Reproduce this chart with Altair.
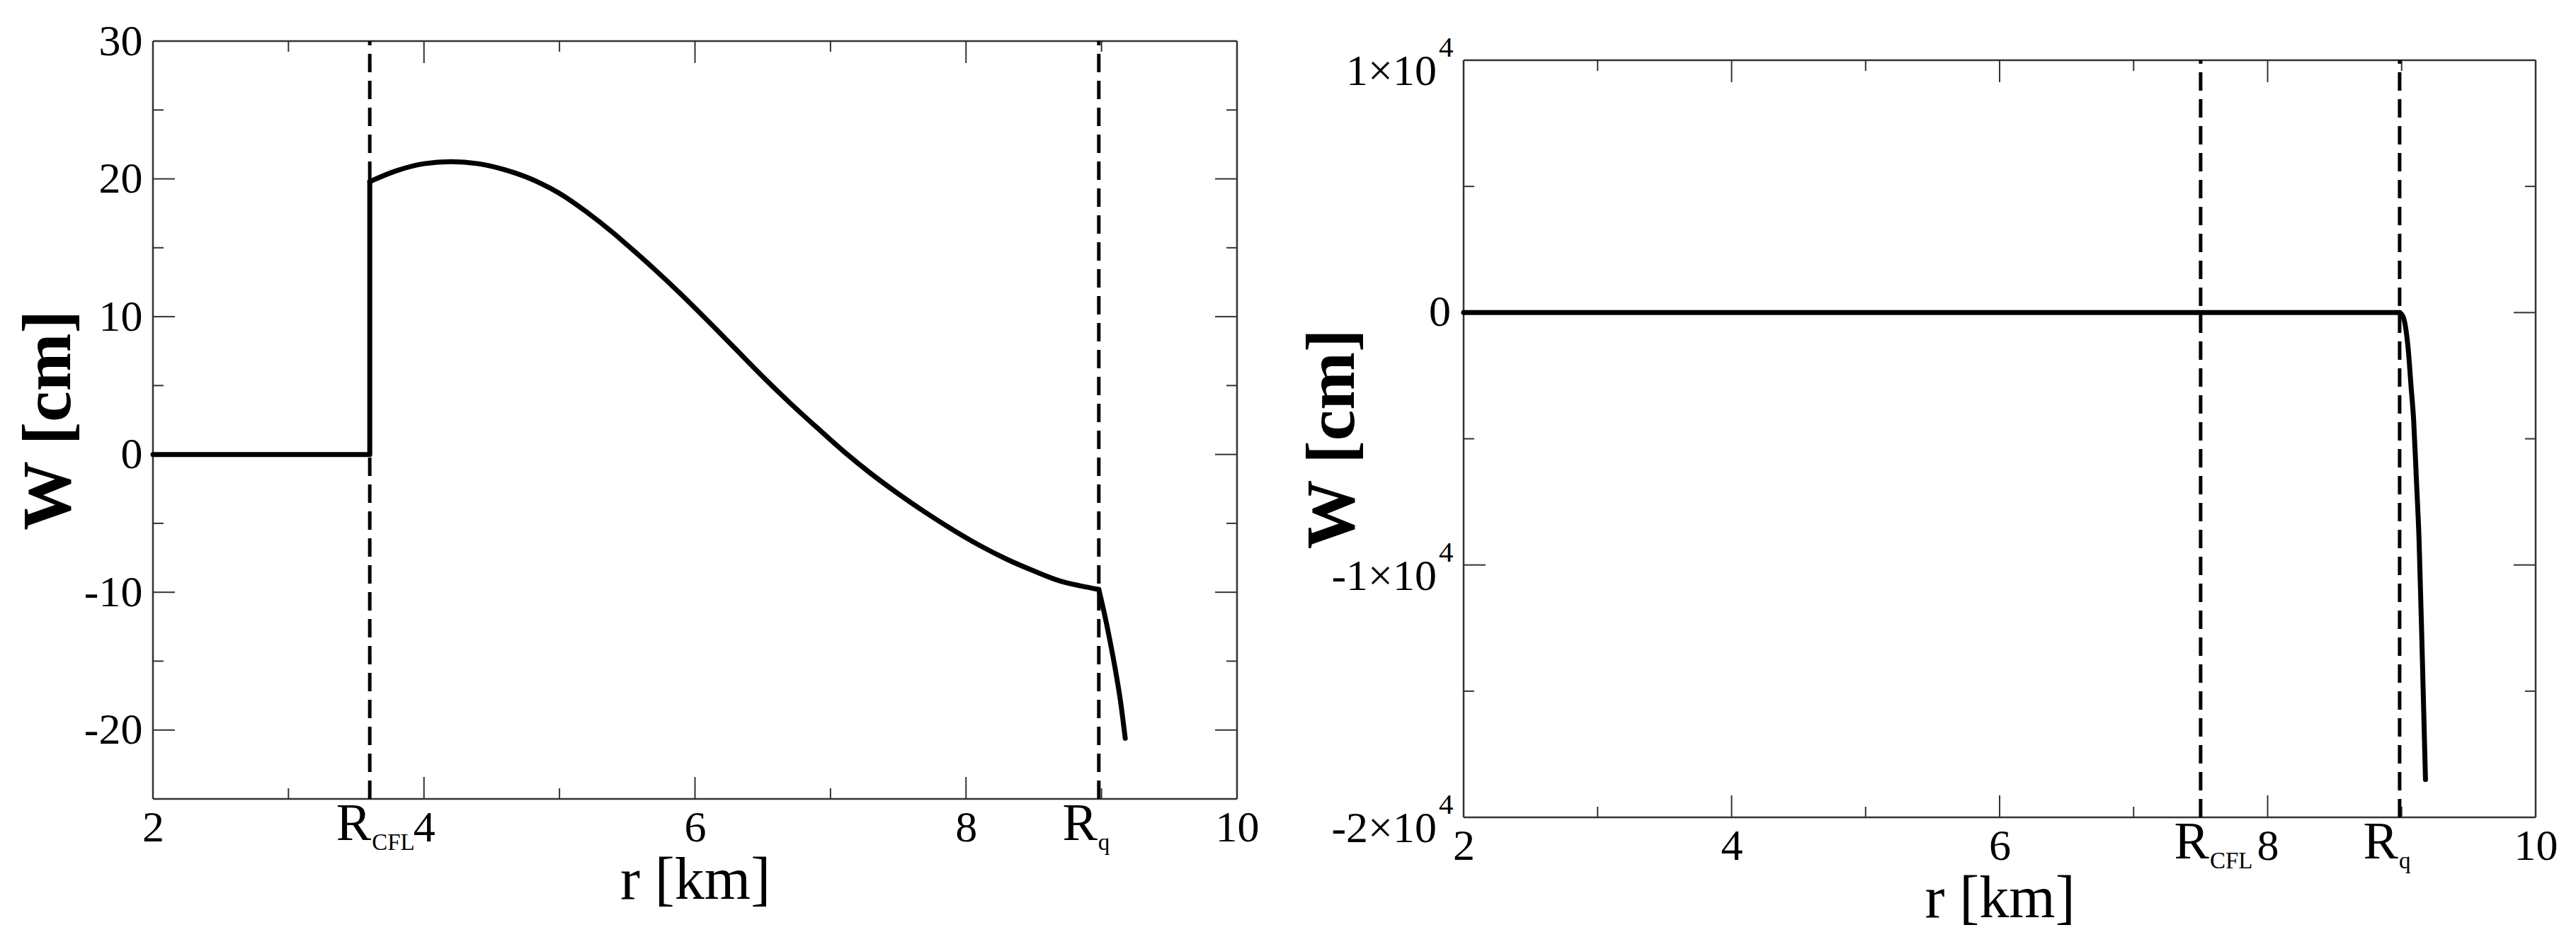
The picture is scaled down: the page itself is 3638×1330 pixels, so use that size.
import altair as alt
import pandas as pd

FONT = "Liberation Serif"

# ---------------- data ----------------
# left panel: flat part and jump at R_CFL
left_flat_r = [2.0, 3.6, 3.6]
left_flat_w = [0.0, 0.0, 19.8]
# left panel: smooth part between R_CFL and R_q
left_mid_r = [3.6, 3.8, 4.0, 4.2, 4.4, 4.6, 4.8, 5.0, 5.2, 5.4, 5.5, 5.7, 5.9, 6.1,
              6.3, 6.5, 6.7, 6.9, 7.1, 7.3, 7.5, 7.7, 7.9, 8.1, 8.3, 8.5, 8.7, 8.85, 8.98]
left_mid_w = [19.8, 20.6, 21.1, 21.25, 21.1, 20.65, 19.95, 18.95, 17.6, 16.05, 15.2, 13.45,
              11.6, 9.65, 7.65, 5.65, 3.75, 1.95, 0.2, -1.4, -2.85, -4.2, -5.45, -6.6,
              -7.6, -8.45, -9.2, -9.55, -9.8]
# left panel: outside R_q
left_out_r = [8.98, 9.02, 9.06, 9.10, 9.14, 9.175]
left_out_w = [-9.8, -11.5, -13.4, -15.5, -17.9, -20.6]
# right panel
right_flat_r = [2.0, 8.985]
right_flat_w = [0.0, 0.0]
right_out_r = [8.985, 9.01, 9.03, 9.05, 9.07, 9.09, 9.11, 9.13, 9.155, 9.178]
right_out_w = [0.0, -150, -600, -1500, -2900, -4300, -6600, -9000, -13800, -18500]

# radii marked by dashed lines
left_marks_r = [3.6, 8.98]
right_marks_r = [7.5, 8.985]
mark_names = ["CFL", "q"]

# axes
x_domain = [2, 10]
x_labels = [2, 4, 6, 8, 10]
x_major = [4, 6, 8]
x_minor = [3, 5, 7, 9]
left_y_domain = [-25, 30]
left_y_labels = [-20, -10, 0, 10, 20, 30]
left_y_major = [-20, -10, 0, 10, 20]
left_y_minor = [-15, -5, 5, 15, 25]
right_y_domain = [-20000, 10000]
right_y_major = [-10000, 0]
right_y_minor = [-15000, -5000, 5000]
right_y_label_values = [10000, -10000, -20000]
right_y_label_base = ["1×10", "-1×10", "-2×10"]
right_y_label_exp = ["4", "4", "4"]

# ---------------- layout constants ----------------
W_L, H_L = 1531, 1070
W_R, H_R = 1514, 1096
R_TOP = 27
MAJ, MIN = 31, 15
FRAME = "#333333"


def panel(segments, marks_r, ydom, W, H, top, yaxis, ymaj, ymin, cfl_dx, extra=None):
    xs = alt.Scale(domain=x_domain, nice=False, zero=False)
    if top == 0:
        ys = alt.Scale(domain=ydom, nice=False, zero=False)
    else:
        ys = alt.Scale(domain=ydom, nice=False, zero=False, range=[H, top])

    xaxis = alt.Axis(values=x_labels, title="r [km]", titleFont=FONT, titleFontSize=84,
                     titleFontWeight="normal", titleY=140, titleBaseline="alphabetic",
                     titleColor="black", labelFont=FONT, labelFontSize=62, labelColor="black",
                     labelPadding=10, labelFlush=False, labelOverlap=False, ticks=False,
                     tickSize=0, domain=False, grid=False)

    def X(f):
        return alt.X(f, scale=xs, axis=xaxis)

    def Y(f):
        return alt.Y(f, scale=ys, axis=yaxis)

    frame_df = pd.DataFrame({
        "x": [x_domain[0], x_domain[0], x_domain[0], x_domain[1]],
        "x2": [x_domain[1], x_domain[1], x_domain[0], x_domain[1]],
        "y": [ydom[0], ydom[1], ydom[0], ydom[0]],
        "y2": [ydom[0], ydom[1], ydom[1], ydom[1]],
    })
    frame = alt.Chart(frame_df).mark_rule(color=FRAME, strokeWidth=2.5).encode(
        x=X("x:Q"), x2="x2:Q", y=Y("y:Q"), y2="y2:Q")

    layers = [frame]
    for vals, ln in ((x_major, MAJ), (x_minor, MIN)):
        tdf = pd.DataFrame({"t": vals})
        layers.append(alt.Chart(tdf).mark_rule(color=FRAME, strokeWidth=2).encode(
            x=X("t:Q"), y=alt.value(H), y2=alt.value(H - ln)))
        layers.append(alt.Chart(tdf).mark_rule(color=FRAME, strokeWidth=2).encode(
            x=X("t:Q"), y=alt.value(top), y2=alt.value(top + ln)))
    for vals, ln in ((ymaj, MAJ), (ymin, MIN)):
        tdf = pd.DataFrame({"t": vals})
        layers.append(alt.Chart(tdf).mark_rule(color=FRAME, strokeWidth=2).encode(
            y=Y("t:Q"), x=alt.value(0), x2=alt.value(ln)))
        layers.append(alt.Chart(tdf).mark_rule(color=FRAME, strokeWidth=2).encode(
            y=Y("t:Q"), x=alt.value(W), x2=alt.value(W - ln)))

    mdf = pd.DataFrame({"r": marks_r, "name": mark_names,
                        "lo": [ydom[0]] * len(marks_r), "hi": [ydom[1]] * len(marks_r)})
    layers.append(alt.Chart(mdf).mark_rule(color="black", strokeWidth=5,
                                           strokeDash=[26, 12]).encode(
        x=X("r:Q"), y=Y("lo:Q"), y2="hi:Q"))

    for rr, ww, interp in segments:
        df = pd.DataFrame({"r": rr, "w": ww, "i": list(range(len(rr)))})
        layers.append(alt.Chart(df).mark_line(color="black", strokeWidth=7, strokeJoin="round",
                                              strokeCap="round", interpolate=interp).encode(
            x=X("r:Q"), y=Y("w:Q"), order="i:Q"))

    # R_CFL / R_q labels at the dashed lines
    for name, dx in (("CFL", cfl_dx), ("q", -2)):
        base = alt.Chart(mdf).transform_filter(alt.datum.name == name)
        layers.append(base.mark_text(font=FONT, fontSize=74, align="right", baseline="alphabetic",
                                     dx=dx, color="black", text="R").encode(
            x=X("r:Q"), y=alt.value(H + 58)))
        layers.append(base.mark_text(font=FONT, fontSize=33, align="left", baseline="alphabetic",
                                     dx=dx + 1, color="black").encode(
            x=X("r:Q"), y=alt.value(H + 72), text="name:N"))
    if extra is not None:
        layers.extend(extra(Y))
    return alt.layer(*layers).properties(width=W, height=H)


left_yaxis = alt.Axis(values=left_y_labels, title="W [cm]", titleFont=FONT, titleFontSize=98,
                      titleFontWeight="bold", titleX=-147, titleBaseline="middle",
                      titleColor="black", labelFont=FONT, labelFontSize=62, labelColor="black",
                      labelPadding=15, labelFlush=False, labelOverlap=False, ticks=False,
                      tickSize=0, domain=False, grid=False,
                      labelExpr="datum.value < 0 ? '-' + abs(datum.value) : '' + datum.value")

right_yaxis = alt.Axis(title="W [cm]", titleFont=FONT, titleFontSize=98, titleFontWeight="bold",
                       titleX=-185, titleY=(H_R + R_TOP) / 2, titleBaseline="middle",
                       titleColor="black", labels=False, ticks=False, tickSize=0,
                       domain=False, grid=False)


def right_labels(Y):
    ldf = pd.DataFrame({"v": right_y_label_values, "base": right_y_label_base,
                        "exp": right_y_label_exp})
    zdf = pd.DataFrame({"v": [0], "base": ["0"]})
    return [
        alt.Chart(ldf).mark_text(font=FONT, fontSize=62, align="right", baseline="alphabetic",
                                 dy=35, color="black").encode(
            y=Y("v:Q"), x=alt.value(-38), text="base:N"),
        alt.Chart(ldf).mark_text(font=FONT, fontSize=41, align="left", baseline="alphabetic",
                                 dy=-5, color="black").encode(
            y=Y("v:Q"), x=alt.value(-35), text="exp:N"),
        alt.Chart(zdf).mark_text(font=FONT, fontSize=62, align="right", baseline="middle",
                                 color="black").encode(
            y=Y("v:Q"), x=alt.value(-18), text="base:N"),
    ]


left = panel([(left_flat_r, left_flat_w, "linear"),
              (left_mid_r, left_mid_w, "monotone"),
              (left_out_r, left_out_w, "monotone")],
             left_marks_r, left_y_domain, W_L, H_L, 0, left_yaxis,
             left_y_major, left_y_minor, 2)
right = panel([(right_flat_r, right_flat_w, "linear"),
               (right_out_r, right_out_w, "monotone")],
              right_marks_r, right_y_domain, W_R, H_R, R_TOP, right_yaxis,
              right_y_major, right_y_minor, 12, extra=right_labels)

chart = alt.hconcat(left, right, spacing=320, bounds="flush").properties(
    padding={"left": 12, "top": 19, "right": 5, "bottom": 0},
    background="white",
).configure_view(stroke="transparent", strokeWidth=0)

chart.save("out.html", embed_options={"renderer": "svg", "actions": False})
